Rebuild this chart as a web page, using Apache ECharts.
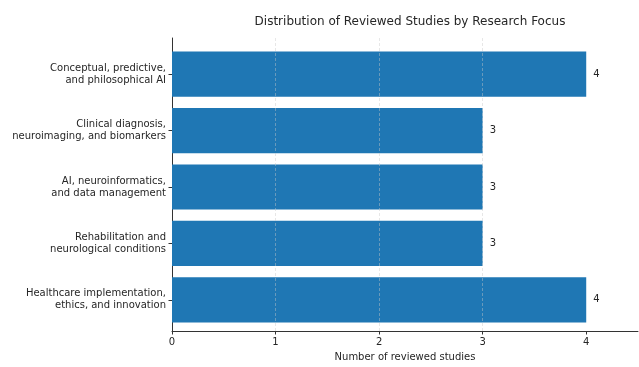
<!DOCTYPE html>
<html>
<head>
<meta charset="utf-8">
<script src="https://cdn.jsdelivr.net/npm/echarts@6/dist/echarts.min.js"></script>
<style>
  html, body { margin: 0; padding: 0; background: #fff; }
  #chart { width: 639px; height: 367px; }
</style>
</head>
<body>
<div id="chart"></div>
<script>
// Research focus areas, listed top to bottom
const categories = [
  'Conceptual, predictive,\nand philosophical AI',
  'Clinical diagnosis,\nneuroimaging, and biomarkers',
  'AI, neuroinformatics,\nand data management',
  'Rehabilitation and\nneurological conditions',
  'Healthcare implementation,\nethics, and innovation'
];
const studyCounts = [4, 3, 3, 3, 4];
const xTicks = [0, 1, 2, 3, 4];

const font = 'DejaVu Sans';
const textColor = '#262626';
const axisColor = '#333';

// Frame of the axes (spines), and the inner band area for the bars
// (the frame leaves a small margin above the first and below the last bar).
const frameTop = 38, frameBottom = 31;
const frameHeight = 367 - frameTop - frameBottom;
const band = frameHeight / (categories.length + 0.28);
const inset = 0.14 * band;

const chart = echarts.init(document.getElementById('chart'), null, { renderer: 'canvas' });
chart.setOption({
  animation: false,
  title: {
    text: 'Distribution of Reviewed Studies by Research Focus',
    left: 405,
    textAlign: 'center',
    top: 11,
    textStyle: { fontFamily: font, fontSize: 12, fontWeight: 'normal', color: textColor }
  },
  grid: [
    { left: 172, right: 1, top: frameTop + inset, bottom: frameBottom + inset, containLabel: false },
    { left: 172, right: 1, top: frameTop, bottom: frameBottom, containLabel: false }
  ],
  xAxis: [
    {
      gridIndex: 0, type: 'value', min: 0, max: 4.5, show: false
    },
    {
      gridIndex: 1,
      type: 'value',
      min: 0,
      max: 4.5,
      interval: 1,
      z: 3,
      name: 'Number of reviewed studies',
      nameLocation: 'middle',
      nameGap: 21,
      nameTextStyle: { fontFamily: font, fontSize: 10, color: textColor },
      axisLine: { show: true, lineStyle: { color: axisColor, width: 1 } },
      axisTick: { show: true, length: 3.5, customValues: xTicks, lineStyle: { color: axisColor } },
      axisLabel: { customValues: xTicks, margin: 6, fontFamily: font, fontSize: 10, color: textColor },
      splitLine: {
        show: true,
        showMinLine: false,
        showMaxLine: false,
        lineStyle: { color: 'rgba(200,200,200,0.55)', type: [3, 2], width: 0.8 }
      }
    }
  ],
  yAxis: [
    {
      gridIndex: 0,
      type: 'category',
      inverse: true,
      data: categories,
      axisLine: { show: false },
      axisTick: { show: true, alignWithLabel: true, length: 3.5, lineStyle: { color: axisColor } },
      axisLabel: {
        margin: 6,
        align: 'right',
        lineHeight: 12,
        fontFamily: font,
        fontSize: 10,
        color: textColor
      },
      splitLine: { show: false }
    },
    {
      gridIndex: 1,
      type: 'value',
      min: 0,
      max: 1,
      axisLine: { show: true, lineStyle: { color: axisColor, width: 1 } },
      axisTick: { show: false },
      axisLabel: { show: false },
      splitLine: { show: false }
    }
  ],
  series: [{
    type: 'bar',
    xAxisIndex: 0,
    yAxisIndex: 0,
    data: studyCounts,
    barWidth: '80%',
    itemStyle: { color: '#1f77b4' },
    label: {
      show: true,
      position: 'right',
      distance: 7,
      fontFamily: font,
      fontSize: 10,
      color: textColor
    }
  }]
});
</script>
</body>
</html>
